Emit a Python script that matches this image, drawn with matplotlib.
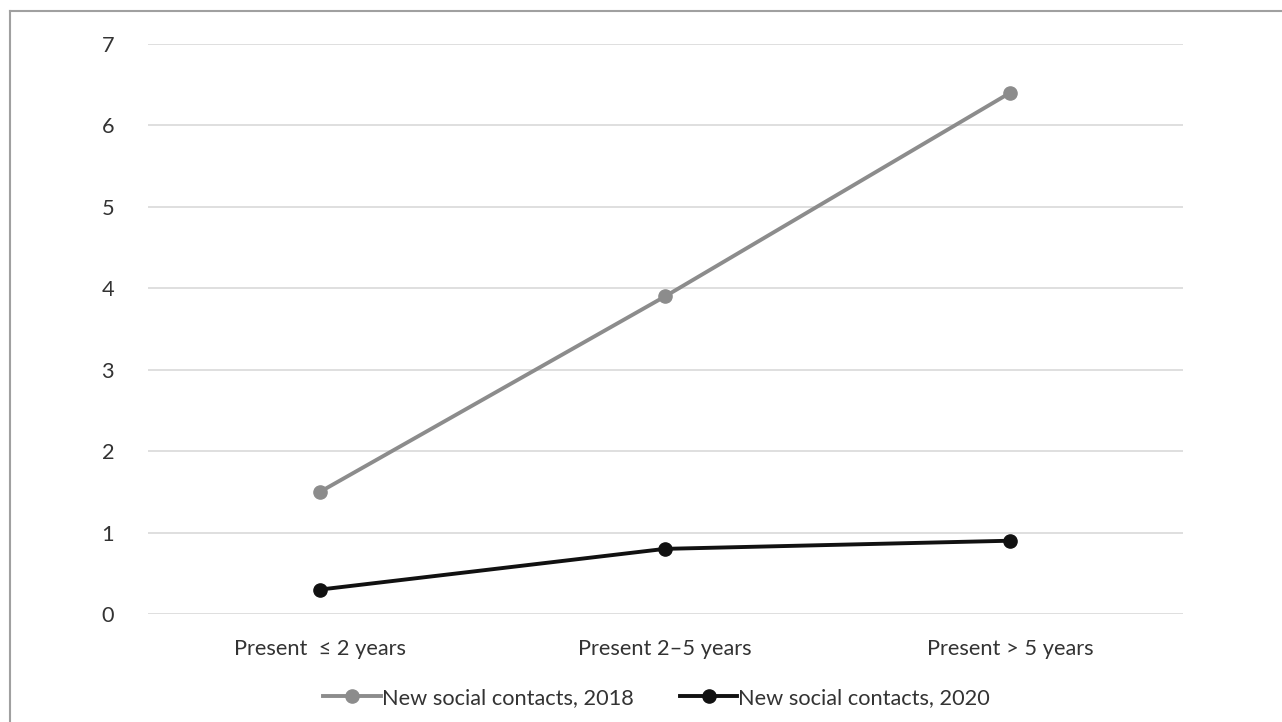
import matplotlib
matplotlib.use("Agg")
import matplotlib.pyplot as plt
from matplotlib.lines import Line2D

plt.rcParams['font.family'] = ['Lato', 'DejaVu Sans']

categories = ['Present  \u2264 2 years', 'Present 2\u20135 years', 'Present > 5 years']
contacts_2018 = [1.5, 3.9, 6.4]
contacts_2020 = [0.3, 0.8, 0.9]
series_names = ['New social contacts, 2018', 'New social contacts, 2020']

fig = plt.figure(figsize=(12.82, 7.22), dpi=100)
ax = fig.add_axes([147.5 / 1282, 1 - 614 / 722, 1035 / 1282, 570 / 722])

x = list(range(len(categories)))
ax.plot(x, contacts_2018, color='#8c8c8c', linewidth=2.8, marker='o', markersize=9.5,
        label=series_names[0], zorder=3)
ax.plot(x, contacts_2020, color='#111111', linewidth=2.8, marker='o', markersize=9.5,
        label=series_names[1], zorder=3)

ax.set_xlim(-0.5, 2.5)
ax.set_ylim(0, 7)
ax.set_yticks(range(0, 8))
ax.set_xticks(x)
ax.set_xticklabels(categories)
ax.tick_params(axis='both', length=0, labelsize=15.7, colors='#333333')
ax.tick_params(axis='x', pad=18)
ax.tick_params(axis='y', pad=24)
ax.grid(axis='y', color='#d9d9d9', linewidth=1.2)
ax.set_axisbelow(True)
for s in ax.spines.values():
    s.set_visible(False)

ax.legend(loc='center', bbox_to_anchor=(0.492, -0.147), ncol=2, frameon=False,
          fontsize=15.7, handlelength=2.65, handletextpad=0.05, columnspacing=2.1,
          labelcolor='#333333')

# outer frame
fig.add_artist(Line2D([10 / 1282, 10 / 1282], [0, 1 - 11 / 722], color='#a0a0a0', linewidth=1.5))
fig.add_artist(Line2D([10 / 1282, 1], [1 - 11 / 722, 1 - 11 / 722], color='#a0a0a0', linewidth=1.5))

fig.savefig('out.png', dpi=100)
